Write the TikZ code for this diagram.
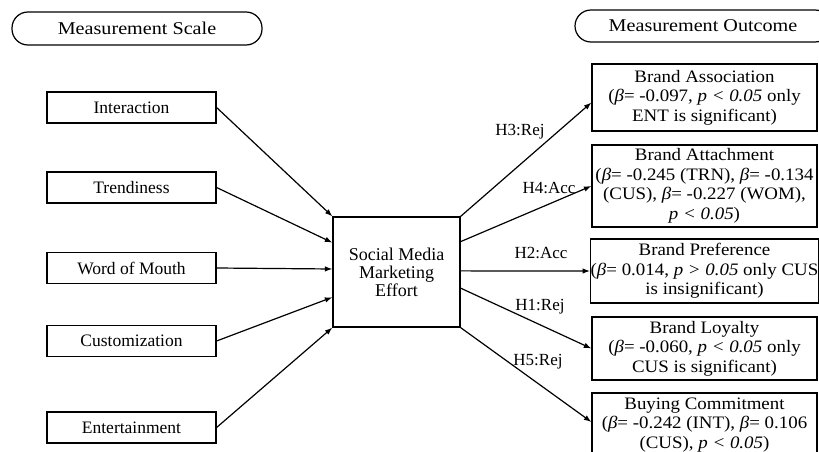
\documentclass[tikz,border=0pt]{standalone}
\usepackage{fontspec}
\setmainfont{Liberation Serif}
\newfontfamily\widefont[FakeStretch=1.08]{Liberation Serif}
\newfontfamily\headfont[FakeStretch=1.12]{Liberation Serif}
\usetikzlibrary{arrows.meta,calc}
\begin{document}
\begin{tikzpicture}[x=1pt,y=-1pt,
  lbox/.style={draw,line width=1.2pt,minimum width=169pt,minimum height=31pt,inner sep=0pt,font=\fontsize{17.5}{20}\selectfont},
  cbox/.style={draw,line width=1.2pt,minimum width=127pt,minimum height=110pt,inner sep=0pt,align=center,font=\fontsize{18}{18}\selectfont},
  rbox/.style={draw,line width=1.2pt,minimum width=225pt,inner sep=0pt,align=center,font=\widefont\fontsize{17.5}{19.5}\selectfont},
  pill/.style={draw,line width=1.2pt,rounded corners=16pt,inner sep=0pt,font=\headfont\fontsize{18}{20}\selectfont},
  arr/.style={line width=1.2pt,-{Latex[length=7.5pt,width=5.5pt]}},
  hlab/.style={font=\fontsize{17}{20}\selectfont,inner sep=1pt}]
\useasboundingbox (0,0) rectangle (819,452);
\clip (0,0) rectangle (819,452);

% headers
\node[pill,minimum width=250pt,minimum height=33pt] (hs) at (137,28.5) {Measurement Scale};
\node[pill,minimum width=256pt,minimum height=32pt] (ho) at (703,26) {Measurement Outcome};

% left boxes
\node[lbox] (int) at (131.5,107.5) {Interaction};
\node[lbox] (trn) at (131.5,187.5) {Trendiness};
\node[lbox] (wom) at (131.5,268) {Word of Mouth};
\node[lbox] (cus) at (131.5,341) {Customization};
\node[lbox] (ent) at (131.5,427.5) {Entertainment};

% centre
\node[cbox] (smm) at (396.5,272) {Social Media\\Marketing\\Effort};

% right boxes
\node[rbox,minimum height=67pt] (ba) at (704.5,97.5) {Brand Association\\(\textit{β}= -0.097, \textit{p < 0.05} only\\ENT is significant)};
\node[rbox,minimum height=82pt] (bat) at (704.5,186) {Brand Attachment\\(\textit{β}= -0.245 (TRN), \textit{β}= -0.134\\(CUS), \textit{β}= -0.227 (WOM),\\\textit{p < 0.05})};
\node[rbox,minimum height=64pt] (bp) at (704.5,271) {Brand Preference\\(\textit{β}= 0.014, \textit{p > 0.05} only CUS\\is insignificant)};
\node[rbox,minimum height=63pt] (bl) at (704.5,348.5) {Brand Loyalty\\(\textit{β}= -0.060, \textit{p < 0.05} only\\CUS is significant)};
\node[rbox,minimum height=64pt] (bc) at (704.5,425) {Buying Commitment\\(\textit{β}= -0.242 (INT), \textit{β}= 0.106\\(CUS), \textit{p < 0.05})};

% entry points on centre box
\coordinate (i1) at (smm.north west);
\coordinate (i2) at ($(smm.north west)!0.236!(smm.south west)$);
\coordinate (i3) at ($(smm.north west)!0.473!(smm.south west)$);
\coordinate (i4) at ($(smm.north west)!0.727!(smm.south west)$);
\coordinate (i5) at (smm.south west);

\draw[arr] (int.east) -- (i1);
\draw[arr] (trn.east) -- (i2);
\draw[arr] (wom.east) -- (i3);
\draw[arr] (cus.east) -- (i4);
\draw[arr] (ent.east) -- (i5);

% exit points
\coordinate (o1) at (smm.north east);
\coordinate (o2) at ($(smm.north east)!0.227!(smm.south east)$);
\coordinate (o3) at ($(smm.north east)!0.49!(smm.south east)$);
\coordinate (o4) at ($(smm.north east)!0.645!(smm.south east)$);
\coordinate (o5) at (smm.south east);

\draw[arr] (o1) -- ([yshift=-5pt]ba.west);
\draw[arr] (o2) -- (bat.west);
\draw[arr] (o3) -- (bp.west);
\draw[arr] (o4) -- (bl.west);
\draw[arr] (o5) -- ([yshift=3pt]bc.west);

% labels
\node[hlab] (l3) at (520,132) {H3:Rej};
\node[hlab] (l4) at (549,188) {H4:Acc};
\node[hlab] (l2) at (541,253) {H2:Acc};
\node[hlab] (l1) at (540,307) {H1:Rej};
\node[hlab] (l5) at (538,362) {H5:Rej};
\end{tikzpicture}
\end{document}
